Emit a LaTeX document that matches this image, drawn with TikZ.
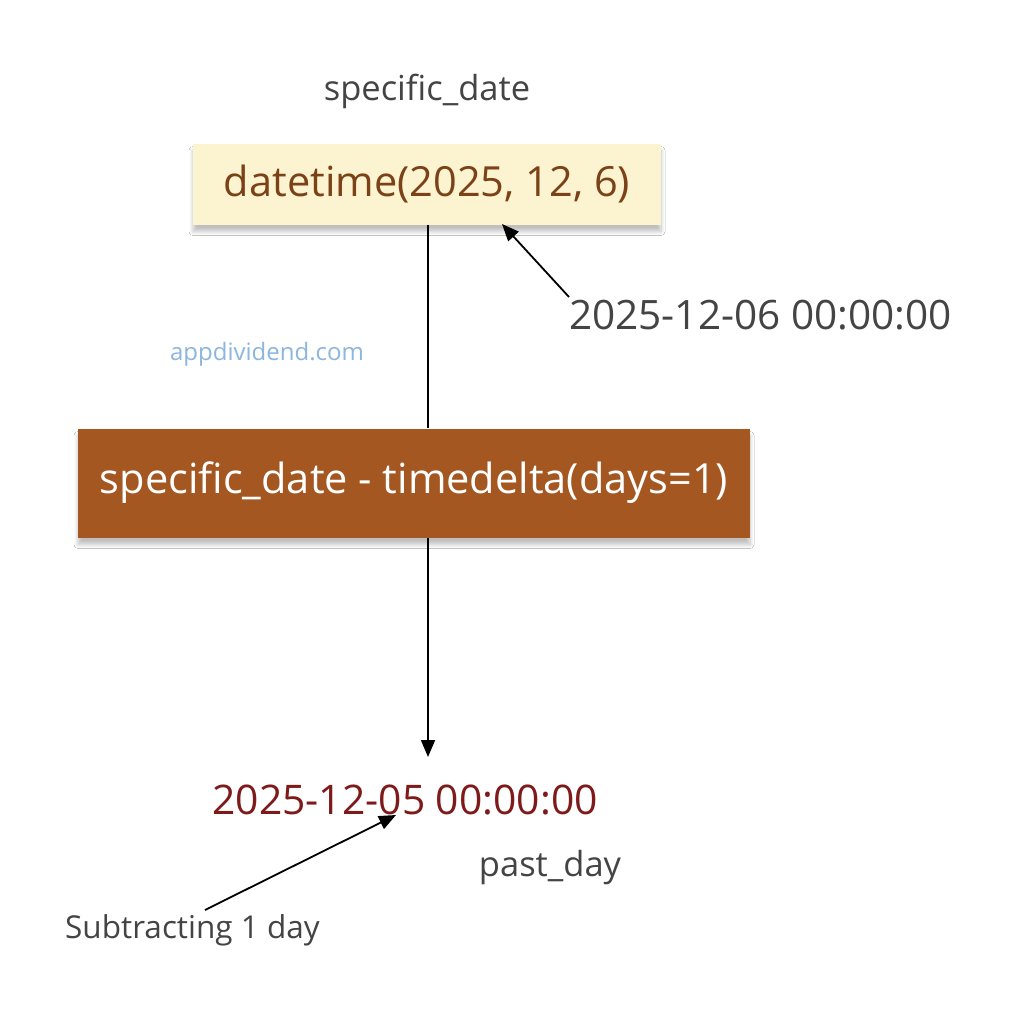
\documentclass[tikz,border=0pt]{standalone}
\usepackage{fontspec}
\setmainfont{Open Sans}
\usetikzlibrary{arrows.meta,shadows.blur}
\definecolor{txtgray}{HTML}{444444}
\definecolor{boxyellow}{HTML}{FCF3D0}
\definecolor{brtxt}{HTML}{7B4218}
\definecolor{brbox}{HTML}{A55722}
\definecolor{darkred}{HTML}{7E1A1A}
\definecolor{wmblue}{HTML}{8CB6DE}
\tikzset{
  lbl/.style={inner sep=0pt, text=txtgray},
  boxshadow/.style={blur shadow={shadow xshift=0pt, shadow yshift=-7pt, shadow blur radius=4pt, shadow blur steps=8, shadow opacity=25}},
  conn/.style={draw=black, line width=1.8pt},
  arr/.style={conn, -{Triangle[length=17pt,width=14pt]}},
}
\begin{document}
\begin{tikzpicture}[x=1pt,y=-1pt]
\useasboundingbox (0,0) rectangle (1024,1014);
\fill[white] (0,0) rectangle (1024,1014);
\node[lbl, font=\fontsize{34.5}{40}\selectfont] (sdlabel) at (427,91) {specific\_date};
\node[boxshadow, fill=boxyellow, minimum width=468pt, minimum height=81pt, inner sep=0pt, text=brtxt, font=\fontsize{41.5}{48}\selectfont] (dt) at (427,184) {datetime(2025, 12, 6)};
\node[lbl, font=\fontsize{40.5}{46}\selectfont, anchor=west] (res1) at (569,315) {2025-12-06 00:00:00};
\node[inner sep=0pt, text=wmblue, font=\fontsize{24}{28}\selectfont] (wm) at (267,354) {appdividend.com};
\node[boxshadow, fill=brbox, minimum width=672pt, minimum height=109pt, inner sep=0pt, text=white, font=\fontsize{41.5}{48}\selectfont] (op) at (414,483) {specific\_date - timedelta(days=1)};
\node[inner sep=0pt, text=darkred, font=\fontsize{40.8}{46}\selectfont] (res2) at (405,800) {2025-12-05 00:00:00};
\coordinate (res2top) at (428,757);
\coordinate (dtarr) at (502,224);
\coordinate (res2arr) at (396,815);
\node[lbl, font=\fontsize{34.5}{40}\selectfont] (pd) at (550,868) {past\_day};
\node[lbl, font=\fontsize{31.5}{36}\selectfont, anchor=west] (sub) at (65,930) {Subtracting 1 day};
\coordinate (res1tail) at (569,297);
\coordinate (subtail) at (205,910);
\draw[conn] (dt.south -| 428,0) -- (op.north -| 428,0);
\draw[arr] (op.south -| 428,0) -- (res2top);
\draw[arr] (res1tail) -- (dtarr);
\draw[arr] (subtail) -- (res2arr);
\end{tikzpicture}
\end{document}
